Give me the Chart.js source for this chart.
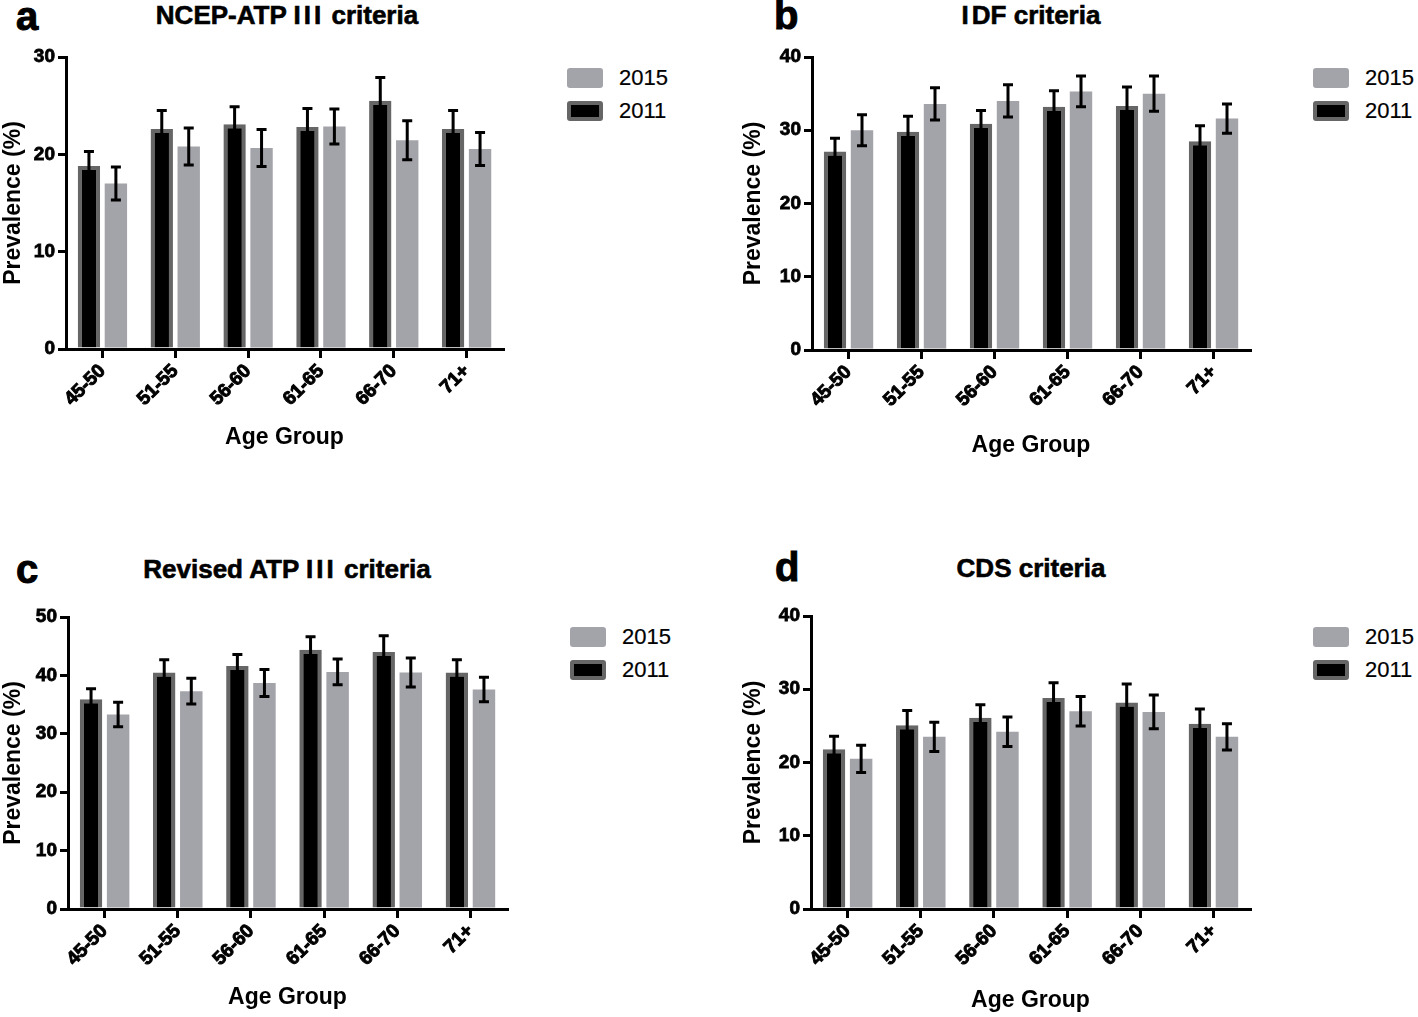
<!DOCTYPE html>
<html>
<head>
<meta charset="utf-8">
<script src="https://cdn.jsdelivr.net/npm/chart.js@4.4.0/dist/chart.umd.min.js"></script>
<style>
  body { margin:0; background:#fff; width:1418px; height:1017px; position:relative; overflow:hidden;
         font-family:"Liberation Sans", Arial, sans-serif; color:#000; }
  canvas { position:absolute; }
  .letter { position:absolute; font-weight:bold; font-size:40px; line-height:1; transform:translateY(-50%);
            -webkit-text-stroke:1px #000; }
  .title { position:absolute; font-weight:bold; font-size:26px; transform:translate(-50%,-50%); white-space:nowrap;
           -webkit-text-stroke:0.6px #000; }
  .title .iii { letter-spacing:3px; }
  .legend { position:absolute; font-size:22px; -webkit-text-stroke:0.2px #000; }
  .legend .row { display:flex; align-items:center; height:20px; margin-bottom:13px; }
  .sw { width:36px; height:20px; box-sizing:border-box; border-radius:3px; margin-right:16px; }
</style>
</head>
<body>

<div class="letter" style="left:16px;top:16px">a</div>
<div class="title" style="left:287px;top:15px">NCEP-ATP <span class="iii">III</span> criteria</div>
<div class="letter" style="left:774px;top:15px">b</div>
<div class="title" style="left:1031px;top:15px"><span class="iii">I</span>DF criteria</div>
<div class="letter" style="left:16px;top:569px">c</div>
<div class="title" style="left:287px;top:569px">Revised ATP <span class="iii">III</span> criteria</div>
<div class="letter" style="left:775px;top:567px">d</div>
<div class="title" style="left:1031px;top:568px">CDS criteria</div>

<canvas id="chartA" width="520" height="460" style="left:0;top:0"></canvas>
<canvas id="chartB" width="520" height="470" style="left:740px;top:0"></canvas>
<canvas id="chartC" width="520" height="467" style="left:0;top:550px"></canvas>
<canvas id="chartD" width="520" height="467" style="left:740px;top:550px"></canvas>

<div class="legend" id="legA" style="left:567px;top:68px"></div>
<div class="legend" id="legB" style="left:1313px;top:68px"></div>
<div class="legend" id="legC" style="left:570px;top:627px"></div>
<div class="legend" id="legD" style="left:1313px;top:627px"></div>

<script>
// categories
const ageGroups = ["45-50", "51-55", "56-60", "61-65", "66-70", "71+"];
const seriesNames = ["2011", "2015"];

// a: NCEP-ATP III
const ncep2011 = [18.8, 22.6, 23.1, 22.8, 25.5, 22.6];
const ncep2011Err = [1.5, 1.9, 1.8, 1.9, 2.4, 1.9];
const ncep2015 = [17.0, 20.8, 20.65, 22.85, 21.45, 20.55];
const ncep2015Err = [1.7, 1.9, 1.9, 1.8, 2.0, 1.7];

// b: IDF
const idf2011 = [27.1, 29.8, 30.9, 33.2, 33.3, 28.5];
const idf2011Err = [1.8, 2.1, 1.8, 2.2, 2.6, 2.1];
const idf2015 = [30.0, 33.6, 34.0, 35.3, 35.0, 31.6];
const idf2015Err = [2.1, 2.2, 2.2, 2.1, 2.4, 2.0];

// c: Revised ATP III
const rev2011 = [35.9, 40.5, 41.6, 44.4, 44.0, 40.5];
const rev2011Err = [1.8, 2.2, 2.0, 2.2, 2.8, 2.2];
const rev2015 = [33.3, 37.3, 38.7, 40.6, 40.5, 37.6];
const rev2015Err = [2.1, 2.2, 2.3, 2.2, 2.5, 2.1];

// d: CDS
const cds2011 = [21.8, 25.1, 26.1, 28.8, 28.2, 25.3];
const cds2011Err = [1.8, 2.0, 1.8, 2.1, 2.5, 2.0];
const cds2015 = [20.5, 23.5, 24.2, 27.0, 26.9, 23.5];
const cds2015Err = [1.85, 2.0, 2.0, 2.0, 2.3, 1.8];

// y axis maxima / steps
const yMaxA = 30, yMaxB = 40, yMaxC = 50, yMaxD = 40;
const yStep = 10;

const COL_2011 = "#000000", BORDER_2011 = "#666666", COL_2015 = "#a3a3aa";

Chart.defaults.font.family = '"Liberation Sans", Arial, sans-serif';
Chart.defaults.color = "#000";

const errorBars = {
  id: "errorBars",
  afterDatasetsDraw(chart) {
    const ctx = chart.ctx, y = chart.scales.y;
    ctx.save();
    ctx.strokeStyle = "#000";
    ctx.lineWidth = 3;
    chart.data.datasets.forEach((ds, di) => {
      const meta = chart.getDatasetMeta(di);
      meta.data.forEach((bar, i) => {
        const v = ds.data[i], e = ds.errors[i];
        const top = y.getPixelForValue(v + e), bot = y.getPixelForValue(v - e);
        ctx.beginPath();
        ctx.moveTo(bar.x, top); ctx.lineTo(bar.x, bot);
        ctx.moveTo(bar.x - 5, top); ctx.lineTo(bar.x + 5, top);
        ctx.moveTo(bar.x - 5, bot); ctx.lineTo(bar.x + 5, bot);
        ctx.stroke();
      });
    });
    ctx.restore();
  }
};

function makeChart(id, d11, e11, d15, e15, yMax, lay) {
  return new Chart(document.getElementById(id), {
    type: "bar",
    data: {
      labels: ageGroups,
      datasets: [
        { label: seriesNames[0], data: d11, errors: e11, backgroundColor: COL_2011,
          borderColor: BORDER_2011, borderWidth: 4, borderSkipped: "start" },
        { label: seriesNames[1], data: d15, errors: e15, backgroundColor: COL_2015,
          borderWidth: 0 }
      ]
    },
    options: {
      responsive: false,
      animation: false,
      devicePixelRatio: 1,
      layout: { padding: { left: 0, top: lay.top, right: lay.right, bottom: lay.bottom } },
      datasets: { bar: { categoryPercentage: 0.74, barPercentage: 0.83 } },
      plugins: { legend: { display: false }, tooltip: { enabled: false } },
      scales: {
        x: {
          offset: true,
          grid: { offset: false, drawOnChartArea: false, tickLength: 9, lineWidth: 3, color: "#000" },
          border: { color: "#000", width: 3 },
          ticks: { color: "#000", font: { size: 19, weight: "bold" }, minRotation: 45, maxRotation: 45, padding: 2,
                   textStrokeColor: "#000", textStrokeWidth: 1 },
          title: { display: true, text: "Age Group", color: "#000", font: { size: 23, weight: "bold" }, padding: 0 },
          afterFit: s => { s.height = lay.xh; }
        },
        y: {
          min: 0, max: yMax,
          grid: { drawOnChartArea: false, tickLength: 8, lineWidth: 3, color: "#000" },
          border: { color: "#000", width: 3 },
          ticks: { stepSize: yStep, color: "#000", font: { size: 19, weight: "bold" }, padding: 3,
                   textStrokeColor: "#000", textStrokeWidth: 0.8 },
          title: { display: true, text: "Prevalence (%)", color: "#000", font: { size: 23, weight: "bold" }, padding: 0 },
          afterFit: s => { s.width = lay.yw; }
        }
      }
    },
    plugins: [errorBars]
  });
}

function makeLegend(id) {
  const el = document.getElementById(id);
  el.innerHTML = `
    <div class="row"><div class="sw" style="background:${COL_2015}"></div>${seriesNames[1]}</div>
    <div class="row"><div class="sw" style="background:${COL_2011};border:4px solid ${BORDER_2011}"></div>${seriesNames[0]}</div>`;
}

makeChart("chartA", ncep2011, ncep2011Err, ncep2015, ncep2015Err, yMaxA, { top: 57, right: 17, bottom: 9, xh: 102, yw: 66 });
makeChart("chartB", idf2011, idf2011Err, idf2015, idf2015Err, yMaxB, { top: 57, right: 10, bottom: 11, xh: 109, yw: 72 });
makeChart("chartC", rev2011, rev2011Err, rev2015, rev2015Err, yMaxC, { top: 67, right: 13, bottom: 6, xh: 102, yw: 68 });
makeChart("chartD", cds2011, cds2011Err, cds2015, cds2015Err, yMaxD, { top: 66, right: 10, bottom: 3, xh: 105, yw: 71 });

["legA", "legB", "legC", "legD"].forEach(makeLegend);
</script>
</body>
</html>
